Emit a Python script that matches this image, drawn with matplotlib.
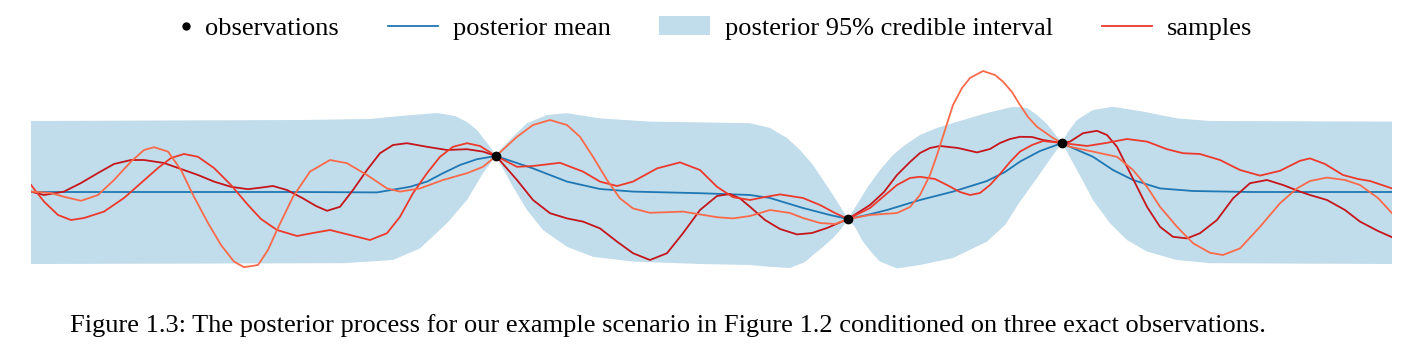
import matplotlib
matplotlib.use("Agg")
import matplotlib.pyplot as plt
from matplotlib.lines import Line2D
from matplotlib.patches import Patch
from matplotlib.legend_handler import HandlerBase

plt.rcParams['font.family'] = ['Liberation Serif', 'DejaVu Serif']

# observations
obs_x = [4.65, 8.17, 10.31]
obs_y = [0.9, -0.675, 1.225]

# posterior mean
mean_x = [0.00, 2.69, 3.46, 3.79, 3.96, 4.12, 4.29, 4.46, 4.65, 5.02, 5.36, 5.69, 6.02,
          6.69, 7.19, 7.39, 7.72, 7.99, 8.17, 8.36, 8.56, 8.89, 9.22, 9.56, 9.74, 9.89,
          10.09, 10.31, 10.39, 10.62, 10.82, 11.02, 11.29, 11.62, 12.19, 13.61]
mean_y = [0, 0, -0.01, 0.13, 0.26, 0.47, 0.675, 0.82, 0.90, 0.59, 0.26, 0.075, 0.01,
          -0.03, -0.075, -0.15, -0.40, -0.575, -0.675, -0.575, -0.45, -0.20, 0.01, 0.275, 0.50, 0.76,
          1.025, 1.225, 1.13, 0.88, 0.55, 0.30, 0.09, 0.025, 0, 0]

# 95% credible interval, upper and lower edge
upper_x = [0.00, 2.69, 3.39, 3.69, 4.06, 4.24, 4.36, 4.46, 4.59, 4.65, 4.69, 4.82, 4.96,
           5.16, 5.36, 5.69, 6.19, 7.19, 7.39, 7.56, 7.69, 7.82, 7.92, 8.02, 8.17, 8.27,
           8.36, 8.49, 8.62, 8.74, 8.89, 9.06, 9.22, 9.56, 9.82, 9.96, 10.06, 10.16, 10.22,
           10.31, 10.37, 10.46, 10.62, 10.82, 11.12, 11.46, 11.79, 13.61]
upper_y = [1.775, 1.80, 1.825, 1.90, 1.975, 1.90, 1.75, 1.55, 1.13, 0.90, 1.05, 1.38, 1.72,
           1.925, 1.97, 1.84, 1.76, 1.72, 1.60, 1.35, 1.05, 0.675, 0.30, -0.075, -0.675, -0.275,
           0.10, 0.55, 0.925, 1.175, 1.425, 1.60, 1.725, 1.975, 2.13, 2.10, 1.925, 1.70, 1.51,
           1.225, 1.50, 1.80, 2.05, 2.13, 2.01, 1.84, 1.775, 1.76]
lower_x = [0.00, 3.12, 3.62, 3.89, 4.16, 4.36, 4.52, 4.65, 4.82, 4.96, 5.12, 5.36, 5.62,
           6.02, 6.69, 7.19, 7.39, 7.59, 7.74, 7.82, 7.92, 8.02, 8.10, 8.17, 8.24, 8.32,
           8.41, 8.49, 8.66, 8.89, 9.22, 9.56, 9.74, 9.89, 10.06, 10.22, 10.31, 10.46,
           10.62, 10.79, 10.96, 11.16, 11.46, 11.79, 13.61]
lower_y = [-1.80, -1.78, -1.70, -1.41, -0.78, -0.20, 0.47, 0.90, 0.13, -0.45, -0.95, -1.37, -1.62,
           -1.74, -1.80, -1.825, -1.87, -1.90, -1.75, -1.575, -1.375, -1.15, -0.93, -0.675, -0.875, -1.24,
           -1.525, -1.74, -1.91, -1.825, -1.65, -1.24, -0.825, -0.24, 0.35, 0.925, 1.225, 0.55,
           -0.20, -0.78, -1.20, -1.49, -1.70, -1.78, -1.80]

# three posterior samples
s1_x = [0.00, 0.13, 0.33, 0.50, 0.67, 0.83, 1.00, 1.13, 1.33, 1.50, 1.67, 1.83, 2.00, 2.17,
        2.30, 2.42, 2.56, 2.72, 2.85, 2.96, 3.09, 3.22, 3.36, 3.49, 3.62, 3.76, 3.96, 4.16,
        4.36, 4.52, 4.65, 4.86, 5.02, 5.19, 5.36, 5.52, 5.69, 5.86, 6.02, 6.19, 6.36, 6.52,
        6.69, 6.86, 6.99, 7.09, 7.19, 7.34, 7.49, 7.66, 7.81, 7.96, 8.17, 8.39, 8.53, 8.66,
        8.79, 8.89, 8.99, 9.09, 9.27, 9.46, 9.59, 9.69, 9.79, 9.89, 10.01, 10.12, 10.31,
        10.39, 10.52, 10.66, 10.76, 10.86, 10.96, 11.06, 11.16, 11.29, 11.42, 11.56, 11.69,
        11.86, 12.02, 12.19, 12.36, 12.52, 12.69, 12.79, 12.96, 13.14, 13.29, 13.47, 13.61]
s1_y = [0.01, -0.075, 0.01, 0.225, 0.475, 0.70, 0.80, 0.80, 0.725, 0.575, 0.425, 0.26, 0.13, 0.07,
        0.11, 0.15, 0.05, -0.16, -0.35, -0.47, -0.37, 0.05, 0.55, 0.97, 1.175, 1.22, 1.13, 1.05,
        1.07, 1.01, 0.90, 0.30, -0.20, -0.53, -0.66, -0.74, -0.91, -1.24, -1.53, -1.70, -1.53, -1.03,
        -0.45, -0.10, -0.05, -0.16, -0.37, -0.70, -0.925, -1.06, -1.025, -0.90, -0.675, -0.325, 0.0, 0.425,
        0.75, 0.975, 1.10, 1.15, 1.10, 0.99, 1.075, 1.225, 1.325, 1.38, 1.375, 1.30, 1.225,
        1.26, 1.47, 1.53, 1.425, 1.13, 0.63, 0.13, -0.37, -0.87, -1.12, -1.16, -1.03,
        -0.70, -0.16, 0.22, 0.30, 0.175, 0.01, -0.075, -0.20, -0.45, -0.74, -0.975, -1.13]

s2_x = [0.00, 0.13, 0.27, 0.40, 0.53, 0.73, 0.93, 1.10, 1.27, 1.40, 1.53, 1.67, 1.83, 2.00,
        2.17, 2.30, 2.46, 2.66, 2.82, 2.99, 3.19, 3.39, 3.56, 3.69, 3.82, 3.96, 4.09, 4.22,
        4.36, 4.49, 4.65, 4.86, 5.02, 5.29, 5.52, 5.69, 5.86, 6.02, 6.26, 6.49, 6.69, 6.86,
        7.02, 7.19, 7.34, 7.49, 7.72, 7.89, 8.04, 8.17, 8.39, 8.53, 8.66, 8.79, 8.89, 9.04,
        9.16, 9.29, 9.39, 9.49, 9.59, 9.69, 9.79, 9.89, 10.01, 10.12, 10.31, 10.56, 10.76,
        10.96, 11.16, 11.36, 11.52, 11.69, 11.89, 12.09, 12.29, 12.49, 12.69, 12.79, 12.94,
        13.12, 13.27, 13.39, 13.61]
s2_y = [0.175, -0.24, -0.575, -0.70, -0.65, -0.49, -0.15, 0.225, 0.60, 0.85, 0.95, 0.88, 0.60, 0.175,
        -0.325, -0.675, -0.95, -1.10, -1.025, -0.95, -1.075, -1.20, -1.03, -0.62, -0.03, 0.47, 0.88, 1.13,
        1.22, 1.15, 0.90, 0.63, 0.65, 0.73, 0.51, 0.26, 0.15, 0.26, 0.59, 0.74, 0.55, 0.13,
        -0.13, -0.20, -0.125, -0.06, -0.15, -0.325, -0.525, -0.675, -0.40, -0.10, 0.175, 0.35, 0.38, 0.325,
        0.175, 0.0, -0.075, -0.025, 0.175, 0.45, 0.75, 1.01, 1.175, 1.275, 1.225, 1.15, 1.23,
        1.325, 1.26, 1.07, 0.97, 0.95, 0.80, 0.55, 0.41, 0.53, 0.78, 0.84, 0.70,
        0.425, 0.325, 0.275, 0.09]

s3_x = [0.00, 0.20, 0.33, 0.50, 0.67, 0.83, 1.00, 1.13, 1.23, 1.37, 1.50, 1.63, 1.77, 1.90,
        2.03, 2.13, 2.27, 2.37, 2.46, 2.62, 2.79, 2.99, 3.16, 3.36, 3.56, 3.69, 3.89, 4.12,
        4.36, 4.52, 4.65, 4.86, 5.02, 5.19, 5.36, 5.49, 5.62, 5.76, 5.89, 6.02, 6.19, 6.52,
        6.86, 7.02, 7.19, 7.39, 7.59, 7.72, 7.89, 8.04, 8.17, 8.39, 8.66, 8.79, 8.89, 8.99,
        9.06, 9.14, 9.22, 9.31, 9.39, 9.52, 9.64, 9.72, 9.81, 9.89, 9.97, 10.06, 10.22, 10.31,
        10.39, 10.62, 10.86, 11.02, 11.16, 11.29, 11.46, 11.62, 11.79, 11.92, 12.09, 12.29,
        12.49, 12.66, 12.79, 12.96, 13.14, 13.29, 13.47, 13.61]
s3_y = [0.01, -0.025, -0.12, -0.22, -0.075, 0.30, 0.76, 1.05, 1.12, 1.01, 0.55, -0.12, -0.775, -1.325,
        -1.74, -1.88, -1.825, -1.45, -0.95, -0.12, 0.51, 0.80, 0.72, 0.425, 0.09, 0.01, 0.09, 0.30,
        0.47, 0.63, 0.90, 1.38, 1.675, 1.80, 1.675, 1.38, 0.88, 0.30, -0.16, -0.41, -0.52, -0.49,
        -0.63, -0.66, -0.60, -0.45, -0.525, -0.65, -0.775, -0.80, -0.675, -0.575, -0.525, -0.375, -0.075, 0.425,
        0.925, 1.55, 2.175, 2.60, 2.85, 3.025, 2.925, 2.76, 2.50, 2.175, 1.875, 1.63, 1.35, 1.225,
        1.13, 1.01, 0.88, 0.55, 0.13, -0.37, -0.87, -1.28, -1.52, -1.575, -1.41, -0.87,
        -0.28, 0.09, 0.275, 0.36, 0.30, 0.175, -0.15, -0.53]

band_color = '#c1dcea'
mean_color = '#1f77b4'
sample_colors = ['#c4161c', '#ec3a2c', '#fb6a4a']


class DotHandler(HandlerBase):
    # dot drawn near the right end of the handle box, close to its label
    def create_artists(self, legend, orig_handle, xdescent, ydescent, width, height,
                       fontsize, trans):
        dot = Line2D([0.92 * width - xdescent], [height / 2 - ydescent], marker='o',
                     markersize=5, color='black', linestyle='none', transform=trans)
        return [dot]


fig = plt.figure(figsize=(14.04, 3.5), dpi=100)
ax = fig.add_axes([31 / 1404, 0.2, 1361 / 1404, 220 / 350])

ax.fill(upper_x + lower_x[::-1], upper_y + lower_y[::-1], color=band_color, linewidth=0)
ax.plot(mean_x, mean_y, color=mean_color, lw=1.3)
ax.plot(s1_x, s1_y, color=sample_colors[0], lw=1.3)
ax.plot(s2_x, s2_y, color=sample_colors[1], lw=1.3)
ax.plot(s3_x, s3_y, color=sample_colors[2], lw=1.3)
ax.plot(obs_x, obs_y, 'o', color='black', markersize=6, zorder=5)

ax.set_xlim(0, 13.61)
ax.set_ylim(-2.2, 3.3)
ax.axis('off')

handles = [Line2D([], [], marker='o', color='black', linestyle='none'),
           Line2D([], [], color=mean_color, lw=1.3),
           Patch(facecolor=band_color, edgecolor='none'),
           Line2D([], [], color=sample_colors[1], lw=1.3)]
labels = ['observations', 'posterior mean', 'posterior 95% credible interval', 'samples']
fig.legend(handles, labels, loc='center', bbox_to_anchor=(696 / 1404, 1 - 28 / 350),
           ncol=4, frameon=False, fontsize=19, handlelength=1.9, handleheight=0.7,
           handletextpad=0.57, columnspacing=1.85, handler_map={handles[0]: DotHandler()})

fig.text(70 / 1404, 1 - 326 / 350,
         'Figure 1.3: The posterior process for our example scenario in Figure 1.2 '
         'conditioned on three exact observations.',
         fontsize=19, va='center', ha='left')

fig.savefig('out.png', dpi=100)
